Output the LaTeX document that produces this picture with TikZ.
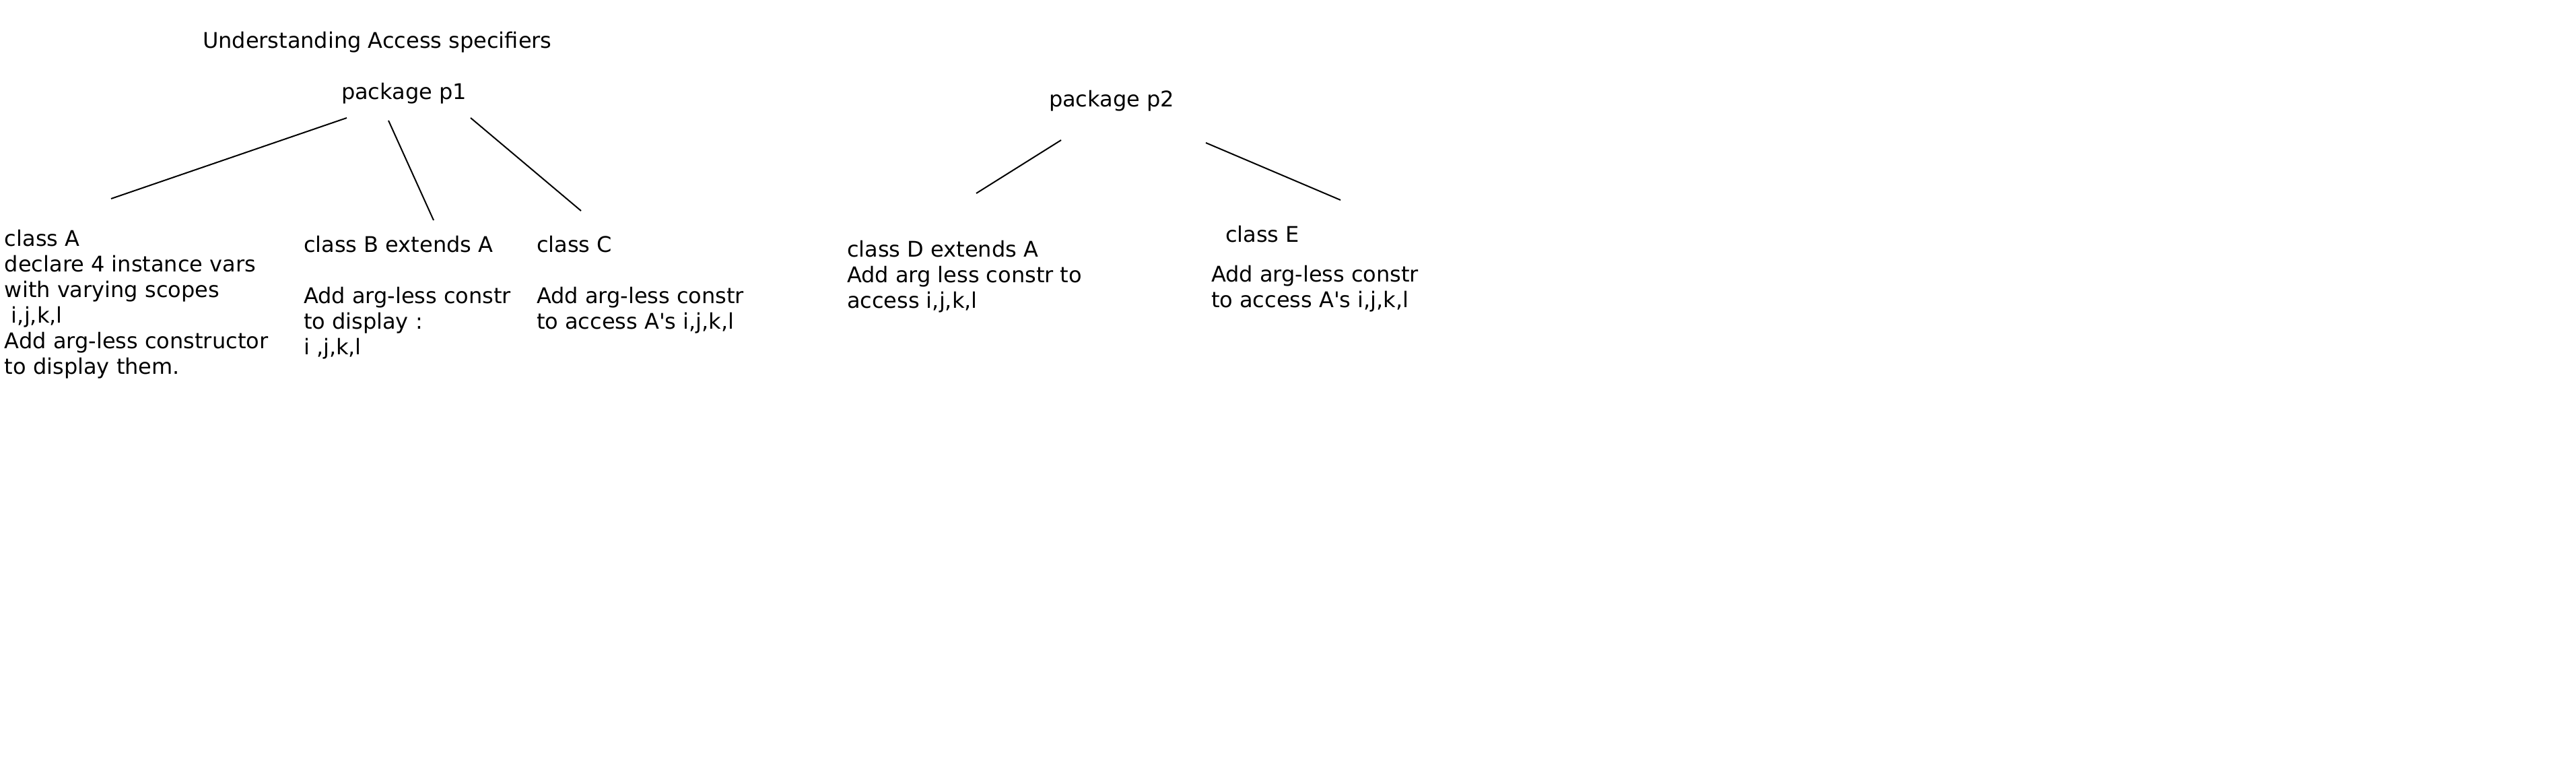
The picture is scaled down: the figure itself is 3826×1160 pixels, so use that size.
\documentclass[tikz,border=0pt]{standalone}
\usepackage{fontspec}
\setmainfont{DejaVu Sans}[Ligatures=TeXOff]
\begin{document}
\begin{tikzpicture}[x=0.25pt,y=-0.25pt,
  txt/.style={inner sep=0pt, outer sep=0pt, font=\fontsize{8pt}{9.5pt}\selectfont},
  block/.style={txt, anchor=north west, align=left},
  label/.style={txt, anchor=base west},
  link/.style={line width=0.5pt, black}]
\useasboundingbox (0,0) rectangle (3826,1160);
\fill[white] (0,0) rectangle (3826,1160);
% headings
\node[label] (title) at (301,71) {Understanding Access specifiers};
\node[label] (p1) at (507,147) {package p1};
\node[label] (p2) at (1558,158) {package p2};
% class blocks
\node[block] (A) at (7,338.4) {\strut class A\\declare 4 instance vars\\with varying scopes\\\hspace*{2.5pt}i,j,k,l\\Add arg-less constructor\\to display them.};
\node[block] (B) at (451,347.4) {\strut class B extends A\\[9.5pt]Add arg-less constr\\to display :\\i ,j,k,l};
\node[block] (C) at (797,347.4) {\strut class C\\[9.5pt]Add arg-less constr\\to access A's i,j,k,l};
\node[block] (D) at (1258,354.4) {\strut class D extends A\\Add arg less constr to\\access i,j,k,l};
\node[block] (E) at (1799,332.4) {\strut\hspace*{5.25pt}class E\\[5.25pt]Add arg-less constr\\to access A's i,j,k,l};
% connector end points
\coordinate (p1a) at (515,175); \coordinate (Aa) at (165,295);
\coordinate (p1b) at (577,179); \coordinate (Bb) at (644,327);
\coordinate (p1c) at (699,175); \coordinate (Cc) at (863,313);
\coordinate (p2d) at (1576,208); \coordinate (Dd) at (1450,287);
\coordinate (p2e) at (1791,212); \coordinate (Ee) at (1991,297);
\draw[link] (p1a) -- (Aa);
\draw[link] (p1b) -- (Bb);
\draw[link] (p1c) -- (Cc);
\draw[link] (p2d) -- (Dd);
\draw[link] (p2e) -- (Ee);
\end{tikzpicture}
\end{document}
